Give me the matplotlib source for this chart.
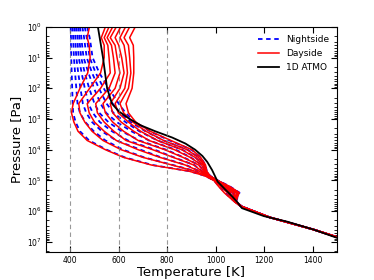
import matplotlib
matplotlib.use("Agg")
import matplotlib.pyplot as plt
from matplotlib.ticker import NullFormatter
import numpy as np

# pressure levels [Pa] of the 3D profiles
pres = [1, 2.24, 3.98, 10, 31.6, 100, 316, 631, 1260, 2510, 5010, 1e4, 1.78e4,
        3.16e4, 5.01e4, 7.08e4, 1e5, 1.58e5, 2.51e5, 3.55e5, 5.01e5, 7.08e5,
        1.58e6, 3.98e6, 1e7, 2.09e7]

# dayside temperatures [K]: one row per pressure level, one column per profile
day_rows = [
    [479, 545, 560, 575, 590, 608, 628, 645, 668],
    [470, 528, 540, 552, 565, 585, 605, 622, 645],
    [478, 540, 555, 570, 585, 600, 622, 640, 660],
    [482, 540, 560, 578, 593, 612, 630, 645, 662],
    [472, 525, 565, 585, 605, 622, 636, 650, 662],
    [440, 480, 525, 560, 585, 605, 625, 640, 655],
    [412, 435, 470, 505, 535, 565, 585, 605, 630],
    [405, 440, 478, 512, 545, 575, 598, 620, 640],
    [415, 460, 500, 540, 575, 610, 640, 658, 670],
    [432, 490, 540, 580, 620, 662, 690, 712, 730],
    [470, 535, 590, 630, 680, 725, 760, 785, 815],
    [545, 610, 680, 740, 790, 830, 860, 882, 902],
    [620, 700, 770, 825, 865, 895, 915, 928, 938],
    [735, 820, 875, 910, 930, 942, 950, 955, 958],
    [890, 915, 932, 942, 950, 955, 958, 961, 963],
    [955, 958, 962, 965, 968, 970, 972, 974, 976],
    [992, 994, 996, 998, 1000, 1002, 1004, 1006, 1008],
    [1012, 1020, 1027, 1033, 1040, 1045, 1050, 1054, 1058],
    [1035, 1048, 1060, 1070, 1078, 1085, 1090, 1094, 1097],
    [1056, 1062, 1068, 1073, 1077, 1081, 1084, 1087, 1089],
    [1078, 1079, 1080, 1081, 1082, 1082, 1083, 1083, 1084],
    [1104, 1105, 1106, 1106, 1107, 1107, 1108, 1108, 1108],
    [1220, 1222, 1218, 1223, 1219, 1221, 1220, 1222, 1221],
    [1402, 1405, 1400, 1406, 1402, 1404, 1403, 1405, 1403],
    [1560, 1562, 1558, 1563, 1560, 1561, 1561, 1562, 1560],
    [1690, 1692, 1688, 1692, 1690, 1691, 1690, 1691, 1690],
]

# nightside temperatures [K]
night_rows = [
    [402, 410, 418, 425, 433, 440, 450, 460, 470],
    [403, 412, 421, 430, 438, 446, 457, 468, 480],
    [403, 413, 422, 431, 440, 449, 461, 473, 485],
    [404, 415, 425, 435, 445, 455, 468, 480, 492],
    [406, 420, 433, 447, 460, 475, 490, 505, 520],
    [408, 425, 442, 460, 478, 498, 518, 538, 558],
    [410, 430, 452, 475, 500, 525, 550, 575, 600],
    [412, 440, 466, 493, 520, 548, 578, 605, 628],
    [422, 462, 490, 522, 557, 592, 628, 650, 668],
    [440, 497, 530, 572, 612, 652, 685, 710, 728],
    [478, 545, 590, 638, 685, 725, 760, 785, 810],
    [550, 618, 690, 748, 795, 835, 862, 884, 900],
    [625, 705, 775, 828, 868, 897, 916, 929, 938],
    [740, 824, 878, 912, 931, 943, 950, 955, 958],
    [892, 917, 933, 943, 951, 955, 958, 961, 963],
    [956, 959, 963, 966, 969, 971, 973, 975, 977],
    [993, 995, 997, 999, 1001, 1003, 1005, 1007, 1009],
    [1014, 1022, 1029, 1035, 1042, 1047, 1051, 1055, 1059],
    [1038, 1051, 1063, 1072, 1080, 1087, 1092, 1095, 1098],
    [1058, 1064, 1070, 1075, 1079, 1083, 1086, 1088, 1090],
    [1079, 1080, 1081, 1081, 1082, 1083, 1083, 1084, 1084],
    [1104, 1105, 1106, 1107, 1107, 1108, 1108, 1108, 1109],
    [1221, 1220, 1222, 1219, 1221, 1220, 1222, 1221, 1220],
    [1403, 1404, 1402, 1405, 1403, 1404, 1402, 1405, 1403],
    [1561, 1562, 1560, 1561, 1562, 1560, 1561, 1562, 1560],
    [1691, 1690, 1691, 1690, 1692, 1690, 1691, 1690, 1691],
]

# 1D ATMO profile
atmo_P = [1, 10, 100, 316, 562, 1e3, 1.6e3, 2.5e3, 4e3, 6.3e3, 1e4, 1.6e4,
          2.5e4, 4.6e4, 1.1e5, 2e5, 3.2e5, 5e5, 8e5, 1.45e6, 2.2e6, 4e6, 7.4e6, 2.1e7]
atmo_T = [514, 535, 552, 572, 600, 645, 690, 750, 820, 875, 915, 945,
          965, 985, 1008, 1040, 1066, 1088, 1108, 1198, 1294, 1404, 1500, 1700]

y_ticks = [1, 10, 100, 1e3, 1e4, 1e5, 1e6, 1e7]
x_ticks = [400, 600, 800, 1000, 1200, 1400]

day_T = np.array(day_rows).T
night_T = np.array(night_rows).T

fig = plt.figure(figsize=(3.74, 2.8), dpi=100)
ax = fig.add_axes([0.123, 0.101, 0.778, 0.803])

for T in night_T:
    ax.plot(T, pres, color="blue", ls="--", lw=1.3, dashes=(2.5, 2))
for T in day_T:
    ax.plot(T, pres, color="red", lw=1.1)
ax.plot(atmo_T, atmo_P, color="black", lw=1.3)

# legend handles
ax.plot([], [], color="blue", ls="--", lw=1.3, dashes=(2.5, 2), label="Nightside")
ax.plot([], [], color="red", lw=1.1, label="Dayside")
ax.plot([], [], color="black", lw=1.3, label="1D ATMO")

for xv in [400, 600, 800]:
    ax.axvline(xv, color="gray", lw=0.8, alpha=0.8, ls=(0, (4, 3)))

ax.set_yscale("log")
ax.set_xlim(300, 1500)
ax.set_ylim(2.1e7, 1)
ax.set_xticks(x_ticks)
ax.set_yticks(y_ticks)
ax.yaxis.set_minor_formatter(NullFormatter())
ax.tick_params(which="both", direction="in", top=True, right=True, labelsize=5.5)
ax.tick_params(which="major", length=4, pad=3)
ax.tick_params(which="minor", length=2)
ax.set_xlabel("Temperature [K]", fontsize=9.5, labelpad=1)
ax.set_ylabel("Pressure [Pa]", fontsize=9.5, labelpad=3)

handles, labels = ax.get_legend_handles_labels()
ax.legend(handles[-3:], labels[-3:], loc="upper right", frameon=False, fontsize=6.5,
          handlelength=2.3, borderaxespad=0.5, labelspacing=0.55)

plt.savefig("out.png", dpi=100)
